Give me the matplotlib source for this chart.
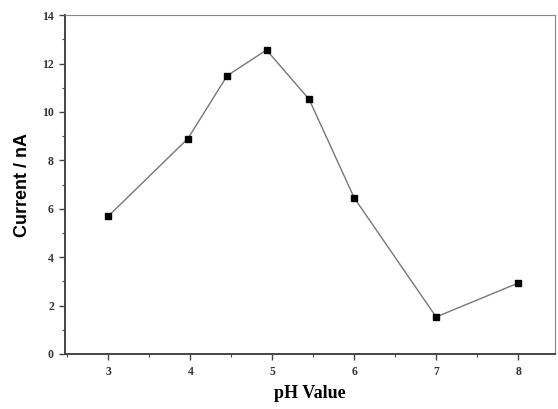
import numpy as np
import matplotlib.pyplot as plt
from matplotlib.ticker import MultipleLocator

# pH response of the current
ph = [3.0, 3.97, 4.45, 4.93, 5.45, 6.0, 7.0, 8.0]
current = [5.7, 8.9, 11.5, 12.56, 10.52, 6.45, 1.53, 2.93]

fig = plt.figure(figsize=(5.58, 4.09), dpi=100)
ax = fig.add_axes([0.1165, 0.1345, 0.878, 0.8285])

ax.plot(ph, current, color="#777777", lw=1.0, marker="s", ms=5,
        mfc="black", mec="black", zorder=3)

ax.set_xlim(2.47, 8.45)
ax.set_ylim(0, 14)
ax.xaxis.set_major_locator(MultipleLocator(1))
ax.xaxis.set_minor_locator(MultipleLocator(0.5))
ax.yaxis.set_major_locator(MultipleLocator(2))
ax.yaxis.set_minor_locator(MultipleLocator(1))

ax.tick_params(which="both", direction="out", color="#444444")
ax.tick_params(which="major", length=4, width=1.0, labelsize=8.5)
ax.tick_params(axis="x", which="major", pad=5)
ax.tick_params(axis="y", which="major", pad=4)
ax.tick_params(which="minor", length=2.5, width=0.8)
for lbl in ax.get_xticklabels() + ax.get_yticklabels():
    lbl.set_family("Liberation Serif")
    lbl.set_fontweight("bold")
    lbl.set_color("#333333")

for side in ("left", "bottom"):
    ax.spines[side].set_linewidth(1.4)
    ax.spines[side].set_color("#444444")
for side in ("top", "right"):
    ax.spines[side].set_linewidth(0.8)
    ax.spines[side].set_color("#888888")

ax.set_xlabel("pH Value", family="Liberation Serif", fontweight="bold",
              fontsize=13, labelpad=5)
ax.set_ylabel("Current / nA", family="Liberation Sans", fontweight="bold",
              fontsize=13, labelpad=8)

fig.savefig("out.png", dpi=100)
